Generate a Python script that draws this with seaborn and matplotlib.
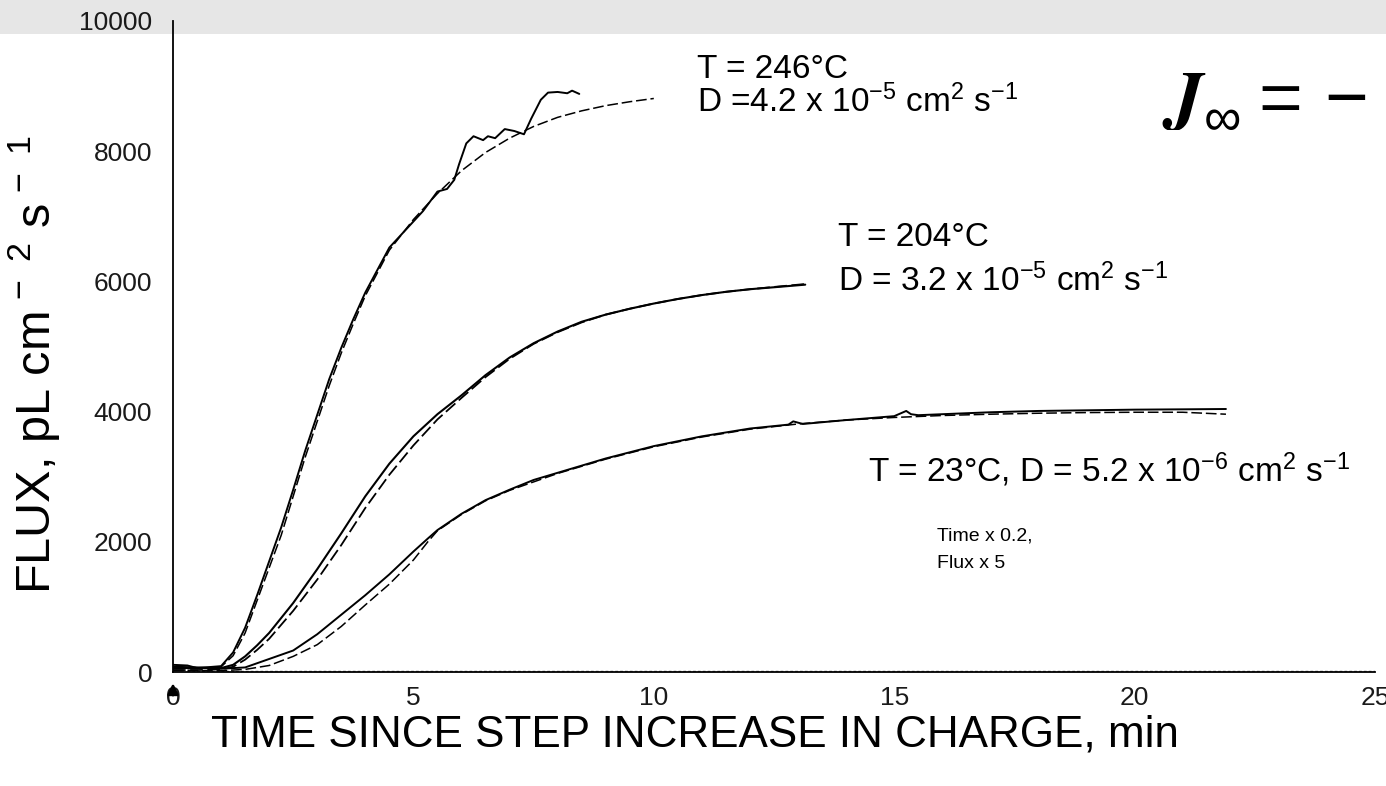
import numpy as np
import pandas as pd
import matplotlib
matplotlib.use("Agg")
import matplotlib.pyplot as plt
from matplotlib.patches import Rectangle
import seaborn as sns

# ---------------- data ----------------
t246_exp = [0, 0.3, 0.5, 1.0, 1.25, 1.5, 1.75, 2.0, 2.25, 2.5, 2.75, 3.0, 3.25, 3.5, 3.75, 4.0, 4.5,
            5.0, 5.2, 5.5, 5.7, 5.85, 5.95, 6.1, 6.25, 6.45, 6.55, 6.7, 6.9, 7.1, 7.3, 7.45, 7.65,
            7.8, 8.0, 8.2, 8.3, 8.45]
f246_exp = [110, 100, 60, 90, 300, 680, 1180, 1700, 2220, 2800, 3400, 3950, 4500, 4980, 5420, 5830, 6520,
            6920, 7080, 7380, 7420, 7560, 7800, 8120, 8230, 8170, 8230, 8200, 8340, 8310, 8260, 8500, 8790,
            8900, 8910, 8890, 8930, 8880]
t246_fit = [0, 0.5, 1.0, 1.25, 1.5, 1.75, 2.0, 2.25, 2.5, 2.75, 3.0, 3.25, 3.5, 3.75, 4.0, 4.5, 5.0,
            5.5, 6.0, 6.5, 7.0, 7.5, 8.0, 8.5, 9.0, 9.5, 10.0]
f246_fit = [50, 50, 80, 250, 600, 1100, 1600, 2100, 2700, 3300, 3850, 4400, 4900, 5350, 5780, 6480, 6950,
            7350, 7700, 7980, 8200, 8380, 8520, 8620, 8700, 8760, 8810]

t204_exp = [0, 0.5, 1.0, 1.25, 1.5, 1.75, 2.0, 2.5, 3.0, 3.5, 4.0, 4.5, 5.0, 5.5, 6.0, 6.5, 7.0, 7.5,
            8.0, 8.5, 9.0, 9.5, 10.0, 10.5, 11.0, 11.5, 12.0, 12.5, 13.15]
f204_exp = [80, 70, 60, 110, 240, 410, 600, 1060, 1580, 2130, 2700, 3200, 3620, 3960, 4250, 4560, 4830,
            5050, 5230, 5380, 5490, 5580, 5660, 5730, 5790, 5840, 5880, 5910, 5950]
t204_fit = [0, 0.5, 1.0, 1.25, 1.5, 1.75, 2.0, 2.5, 3.0, 3.5, 4.0, 4.5, 5.0, 5.5, 6.0, 6.5, 7.0, 7.5,
            8.0, 8.5, 9.0, 9.5, 10.0, 10.5, 11.0, 11.5, 12.0, 12.5, 13.15]
f204_fit = [30, 30, 40, 80, 190, 340, 510, 940, 1420, 1950, 2520, 3030, 3480, 3880, 4210, 4530, 4810,
            5040, 5220, 5370, 5490, 5580, 5660, 5730, 5790, 5840, 5880, 5915, 5960]

t23_exp = [0, 0.5, 1.0, 1.5, 2.0, 2.5, 3.0, 3.5, 4.0, 4.5, 5.0, 5.3, 5.5, 6.0, 6.5, 7.0, 7.5, 8.0, 9.0,
           10.0, 11.0, 12.0, 12.8, 12.9, 13.1, 14.0, 15.0, 15.25, 15.35, 15.5, 16.0, 17.0, 18.0, 19.0,
           20.0, 21.0, 21.9]
f23_exp = [60, 60, 50, 70, 200, 330, 580, 880, 1180, 1500, 1850, 2050, 2180, 2430, 2640, 2800, 2950, 3060,
           3280, 3470, 3620, 3740, 3800, 3850, 3810, 3870, 3930, 4010, 3960, 3945, 3960, 3990, 4010, 4020,
           4030, 4035, 4040]
t23_fit = [0, 1.0, 1.5, 2.0, 2.5, 3.0, 3.5, 4.0, 4.5, 5.0, 5.3, 5.5, 6.0, 6.5, 7.0, 8.0, 9.0, 10.0,
           11.0, 12.0, 13.0, 14.0, 15.0, 16.0, 17.0, 18.0, 19.0, 20.0, 21.0, 21.9]
f23_fit = [20, 20, 40, 100, 240, 420, 700, 1030, 1350, 1720, 2000, 2170, 2420, 2630, 2790, 3050, 3270, 3460,
           3610, 3730, 3810, 3870, 3910, 3940, 3960, 3975, 3985, 3990, 3990, 3960]

t_base = [0.3, 25.0]
f_base = [20, 20]

x_ticks = [0, 5, 10, 15, 20, 25]
y_ticks = [0, 2000, 4000, 6000, 8000, 10000]

label_246 = ["T = 246°C", r"D =4.2 x 10$^{-5}$ cm$^{2}$ s$^{-1}$"]
label_204 = ["T = 204°C", r"D = 3.2 x 10$^{-5}$ cm$^{2}$ s$^{-1}$"]
label_23 = [r"T = 23°C, D = 5.2 x 10$^{-6}$ cm$^{2}$ s$^{-1}$", "Time x 0.2,", "Flux x 5"]
formula_parts = [r"$\mathbfit{J}_{\infty}$", r"$=$", r"$-$", r"$D$"]

# ---------------- style ----------------
sns.set_theme(style="white")
plt.rcParams["font.family"] = ["Liberation Sans", "DejaVu Sans"]
plt.rcParams["mathtext.fontset"] = "custom"
plt.rcParams["mathtext.rm"] = "Liberation Sans"
plt.rcParams["mathtext.it"] = "Liberation Sans:italic"
plt.rcParams["mathtext.bf"] = "Liberation Sans:bold"
plt.rcParams["mathtext.default"] = "regular"

W, H = 1386, 786
fig = plt.figure(figsize=(W / 100, H / 100), dpi=100)
fig.patch.set_facecolor("white")
fig.patches.append(Rectangle((0, 1 - 34 / H), 1, 34 / H, transform=fig.transFigure,
                             facecolor="#e6e6e6", edgecolor="none", zorder=-10))

ax = fig.add_axes([173 / W, 1 - 672 / H, (1375 - 173) / W, (672 - 21) / H])
ax.patch.set_visible(False)

def draw(t, f, dashed=False, lw=1.3, color="black"):
    sns.lineplot(x=t, y=f, ax=ax, color=color, lw=lw, sort=False, estimator=None,
                 legend=False, dashes=False)
    if dashed:
        ax.lines[-1].set_dashes([7, 2.5])

draw(t_base, f_base, lw=1.0, color="#555555")
ax.lines[-1].set_dashes([2, 1.5])
draw(t246_fit, f246_fit, dashed=True, lw=1.1)
draw(t246_exp, f246_exp, lw=1.4)
draw(t204_fit, f204_fit, dashed=True, lw=1.3)
draw(t204_exp, f204_exp, lw=1.5)
draw(t23_fit, f23_fit, dashed=True, lw=1.1)
draw(t23_exp, f23_exp, lw=1.4)

ax.set_xlim(0, 25)
ax.set_ylim(0, 10000)
ax.set_xticks(x_ticks)
ax.set_yticks(y_ticks)
ax.set_xticklabels([str(v) for v in x_ticks])
ax.set_yticklabels([str(v) for v in y_ticks])
for s in ["top", "right"]:
    ax.spines[s].set_visible(False)
for s in ["left", "bottom"]:
    ax.spines[s].set_color("black")
    ax.spines[s].set_linewidth(1.3)
ax.tick_params(axis="both", direction="out", length=6, width=1.2, color="black",
               labelsize=19, labelcolor="#1a1a1a")
ax.tick_params(axis="y", pad=9)
ax.tick_params(axis="x", pad=4)

ax.set_xlabel("TIME SINCE STEP INCREASE IN CHARGE, min", fontsize=31.7, color="black")
ax.xaxis.set_label_coords(0.434, -0.066)
ax.set_ylabel(r"FLUX, pL cm$^{\,-\;\,2}$ s$^{\,-\;\,1}$", fontsize=35, color="black")
ax.yaxis.set_label_coords(-0.092, 0.472)

# arrow at t = 0
ax.annotate("", xy=(0, -130), xytext=(0, -400), xycoords="data",
            arrowprops=dict(arrowstyle="-|>", color="black", lw=1.8, mutation_scale=16),
            annotation_clip=False)

txt = dict(fontsize=24, color="black", va="center", ha="left")
ax.text(10.9, 9250, label_246[0], **txt)
ax.text(10.9, 8760, label_246[1], **txt)
ax.text(13.83, 6670, label_204[0], **txt)
ax.text(13.83, 6010, label_204[1], **txt)
ax.text(14.46, 3100, label_23[0], **txt)
ax.text(15.9, 2090, label_23[1], fontsize=14, color="black", va="center", ha="left")
ax.text(15.9, 1670, label_23[2], fontsize=14, color="black", va="center", ha="left")

fkw = dict(fontsize=54, math_fontfamily="stix", color="black", ha="left", va="baseline")
base_y = 1 - 120 / H
fig.text(1162 / W, base_y, formula_parts[0], **fkw)
fig.text(1248 / W, base_y, formula_parts[1], **fkw)
fig.text(1324 / W, base_y, formula_parts[2], **fkw)
fig.text(1381 / W, base_y, formula_parts[3], **fkw)

fig.savefig("out.png", dpi=100)
